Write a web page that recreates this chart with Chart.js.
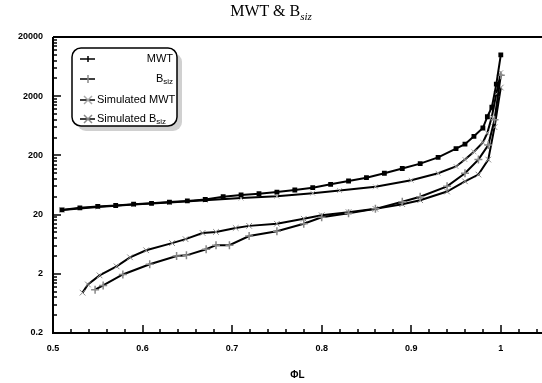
<!DOCTYPE html>
<html>
<head>
<meta charset="utf-8">
<script src="https://cdn.jsdelivr.net/npm/chart.js@4"></script>
<style>
    body { margin: 0; background: #fff; }
    #wrap { position: relative; width: 542px; height: 383px; }
    #title {
        position: absolute; left: 0; top: 2px; width: 542px; text-align: center;
        font-family: "Liberation Serif", "Times New Roman", serif; font-size: 16px; color: #000;
    }
    #title sub { font-style: italic; font-size: 11px; }
</style>
</head>
<body>
<div id="wrap">
    <canvas id="chartMwt" width="542" height="383"></canvas>
    <div id="title">MWT &amp; B<sub>siz</sub></div>
</div>
<script>
// x = fraction, y = value (log axis)
var mwtX = [0.51, 0.53, 0.55, 0.57, 0.59, 0.61, 0.63, 0.65, 0.67, 0.69, 0.71, 0.73, 0.75, 0.77, 0.79, 0.81, 0.83, 0.85, 0.87, 0.89, 0.91, 0.93, 0.95, 0.96, 0.97, 0.98, 0.985, 0.99, 0.995, 1.0];
var mwtY = [24, 26, 27.5, 28.5, 30, 31, 32.5, 34, 36, 40, 43, 45, 48, 52, 57, 65, 74, 84, 100, 120, 145, 185, 260, 310, 420, 580, 900, 1300, 3200, 10000];

var bsizX = [0.547, 0.556, 0.578, 0.608, 0.638, 0.649, 0.671, 0.682, 0.697, 0.719, 0.75, 0.78, 0.8, 0.83, 0.86, 0.89, 0.91, 0.94, 0.96, 0.975, 0.986, 0.993, 1.0];
var bsizY = [1.08, 1.27, 1.95, 2.9, 4.0, 4.1, 5.2, 6.1, 6.1, 8.7, 10.5, 14, 18, 21, 25, 33, 40, 60, 100, 170, 300, 800, 4500];

var simMwtX = [0.51, 0.55, 0.59, 0.63, 0.67, 0.71, 0.75, 0.79, 0.82, 0.86, 0.9, 0.93, 0.95, 0.96, 0.97, 0.98, 0.985, 0.99, 0.995, 1.0];
var simMwtY = [24, 27, 29.5, 32, 35, 38, 41, 46, 51, 59, 76, 100, 130, 170, 230, 330, 480, 900, 2200, 5000];

var simBsizX = [0.533, 0.539, 0.552, 0.571, 0.586, 0.604, 0.633, 0.648, 0.667, 0.682, 0.704, 0.719, 0.75, 0.78, 0.8, 0.83, 0.86, 0.89, 0.91, 0.94, 0.96, 0.975, 0.986, 0.993, 1.0];
var simBsizY = [0.96, 1.32, 1.88, 2.67, 3.8, 5.0, 6.6, 7.7, 9.8, 10.2, 11.9, 12.9, 14, 17, 19.5, 22, 25, 30, 35, 49, 73, 95, 170, 600, 2800];

var xTickValues = [0.5, 0.6, 0.7, 0.8, 0.9, 1];
var yTickValues = [0.2, 2, 20, 200, 2000, 20000];
var yTickLabels = ["0.2", "2", "20", "200", "2000", "20000"];

function toPoints(xs, ys) {
    var pts = [];
    for (var i = 0; i < xs.length; i++) pts.push({ x: xs[i], y: ys[i] });
    return pts;
}

// tick marks pointing into the plot, axis lines, top frame line, legend box
var framePlugin = {
    id: "frame",
    afterDraw: function (chart) {
        var ctx = chart.ctx;
        var area = chart.chartArea;
        var xs = chart.scales.x, ys = chart.scales.y;
        ctx.save();
        ctx.strokeStyle = "#000";
        ctx.lineWidth = 1.5;
        xs.ticks.forEach(function (t) {
            var px = Math.round(xs.getPixelForValue(t.value));
            var major = Math.abs(t.value * 10 - Math.round(t.value * 10)) < 1e-6;
            ctx.beginPath();
            ctx.moveTo(px, area.bottom);
            ctx.lineTo(px, area.bottom - (major ? 8 : 4));
            ctx.stroke();
        });
        ys.ticks.forEach(function (t) {
            var py = Math.round(ys.getPixelForValue(t.value));
            var major = yTickValues.some(function (v) { return Math.abs(v - t.value) / v < 1e-6; });
            ctx.beginPath();
            ctx.moveTo(area.left, py);
            ctx.lineTo(area.left + (major ? 8 : 4), py);
            ctx.stroke();
        });
        ctx.lineWidth = 2;
        ctx.beginPath();
        ctx.moveTo(area.left, area.top);
        ctx.lineTo(area.right, area.top);
        ctx.moveTo(area.left, area.top);
        ctx.lineTo(area.left, area.bottom);
        ctx.lineTo(area.right, area.bottom);
        ctx.stroke();

        // legend
        var bx = 72, by = 48, bw = 105, bh = 78;
        ctx.fillStyle = "#d0d0d0";
        ctx.beginPath();
        ctx.roundRect(bx + 5, by + 5, bw, bh, 9);
        ctx.fill();
        ctx.fillStyle = "#fff";
        ctx.strokeStyle = "#000";
        ctx.lineWidth = 1.5;
        ctx.beginPath();
        ctx.roundRect(bx, by, bw, bh, 9);
        ctx.fill();
        ctx.stroke();

        var rows = [59, 79, 100, 119];
        chart.data.datasets.forEach(function (ds, i) {
            var y = rows[i];
            ctx.strokeStyle = "#000";
            ctx.lineWidth = 1.5;
            ctx.beginPath();
            ctx.moveTo(80, y);
            ctx.lineTo(95, y);
            ctx.stroke();
            ctx.strokeStyle = ds.pointBorderColor;
            ctx.beginPath();
            if (ds.pointStyle === "crossRot") {
                ctx.moveTo(84, y - 4); ctx.lineTo(92, y + 4);
                ctx.moveTo(84, y + 4); ctx.lineTo(92, y - 4);
            } else if (ds.pointStyle === "cross") {
                ctx.moveTo(88, y - 4); ctx.lineTo(88, y + 4);
            } else {
                ctx.moveTo(88, y - 3); ctx.lineTo(88, y + 3);
            }
            ctx.stroke();

            ctx.fillStyle = "#000";
            ctx.font = "11px 'Liberation Sans', Arial, sans-serif";
            ctx.textBaseline = "middle";
            var main = ds.legendMain, sub = ds.legendSub || "";
            var subFont = "8px 'Liberation Sans', Arial, sans-serif";
            var wMain = ctx.measureText(main).width;
            ctx.font = subFont;
            var wSub = ctx.measureText(sub).width;
            var x0 = ds.legendRight ? 173 - wMain - wSub : 97;
            ctx.font = "11px 'Liberation Sans', Arial, sans-serif";
            ctx.textAlign = "left";
            ctx.fillText(main, x0, y);
            if (sub) {
                ctx.font = subFont;
                ctx.fillText(sub, x0 + wMain, y + 3);
            }
        });
        ctx.restore();
    }
};

document.addEventListener("DOMContentLoaded", function () {
    var canvas = document.getElementById("chartMwt");
    var ctx = canvas.getContext("2d");
    var tickFont = { family: "'Liberation Sans', Arial, sans-serif", size: 9, weight: "bold" };

    new Chart(ctx, {
        type: "scatter",
        data: {
            datasets: [
                {
                    label: "MWT", legendMain: "MWT", legendRight: true,
                    data: toPoints(mwtX, mwtY),
                    showLine: true, borderColor: "#000", borderWidth: 2,
                    pointStyle: "rect", pointRadius: 2, pointBackgroundColor: "#000", pointBorderColor: "#000",
                },
                {
                    label: "Bsiz", legendMain: "B", legendSub: "siz", legendRight: true,
                    data: toPoints(bsizX, bsizY),
                    showLine: true, borderColor: "#000", borderWidth: 2,
                    pointStyle: "cross", pointRadius: 4, pointBorderWidth: 1.5, pointBorderColor: "#888",
                },
                {
                    label: "Simulated MWT", legendMain: "Simulated MWT",
                    data: toPoints(simMwtX, simMwtY),
                    showLine: true, borderColor: "#000", borderWidth: 2,
                    pointStyle: "crossRot", pointRadius: 3.5, pointBorderWidth: 1, pointBorderColor: "#aaa",
                },
                {
                    label: "Simulated Bsiz", legendMain: "Simulated B", legendSub: "siz",
                    data: toPoints(simBsizX, simBsizY),
                    showLine: true, borderColor: "#000", borderWidth: 2,
                    pointStyle: "crossRot", pointRadius: 4, pointBorderWidth: 1, pointBorderColor: "#888",
                },
            ],
        },
        options: {
            responsive: false,
            animation: false,
            devicePixelRatio: 1,
            layout: { autoPadding: false, padding: { top: 37, right: 0, left: 0, bottom: 0 } },
            plugins: {
                legend: { display: false },
                title: { display: false },
                tooltip: { enabled: false },
            },
            scales: {
                x: {
                    type: "linear",
                    min: 0.5,
                    max: 1.046,
                    // invisible tick marks only to push labels down; horizontal label padding stays 0
                    grid: { display: true, drawOnChartArea: false, drawTicks: true, tickLength: 10, color: "rgba(0,0,0,0)" },
                    border: { display: false },
                    afterBuildTicks: function (scale) {
                        var t = [];
                        for (var i = 0; i <= 27; i++) t.push({ value: Math.round((0.5 + i * 0.02) * 100) / 100 });
                        scale.ticks = t;
                    },
                    afterFit: function (scale) { scale.height = 50; },
                    ticks: {
                        autoSkip: false,
                        maxRotation: 0,
                        padding: 0,
                        color: "#000",
                        font: tickFont,
                        callback: function (value) {
                            for (var i = 0; i < xTickValues.length; i++) {
                                if (Math.abs(xTickValues[i] - value) < 1e-6) return String(xTickValues[i]);
                            }
                            return "";
                        },
                    },
                    title: {
                        display: true,
                        text: "ΦL",
                        color: "#000",
                        font: { family: "'Liberation Sans', Arial, sans-serif", size: 10, weight: "bold" },
                        padding: { top: 6, bottom: 2 },
                    },
                },
                y: {
                    type: "logarithmic",
                    min: 0.2,
                    max: 20000,
                    grid: { display: false, drawTicks: false },
                    border: { display: false },
                    afterBuildTicks: function (scale) {
                        var t = [];
                        for (var d = 0; d < yTickValues.length - 1; d++) {
                            for (var k = 1; k <= 9; k++) t.push({ value: yTickValues[d] * k });
                        }
                        t.push({ value: yTickValues[yTickValues.length - 1] });
                        scale.ticks = t;
                    },
                    afterFit: function (scale) { scale.width = 53; },
                    ticks: {
                        autoSkip: false,
                        padding: 10,
                        color: "#000",
                        font: tickFont,
                        callback: function (value) {
                            for (var i = 0; i < yTickValues.length; i++) {
                                if (Math.abs(yTickValues[i] - value) / yTickValues[i] < 1e-6) return yTickLabels[i];
                            }
                            return "";
                        },
                    },
                },
            },
        },
        plugins: [framePlugin],
    });
});
</script>
</body>
</html>
